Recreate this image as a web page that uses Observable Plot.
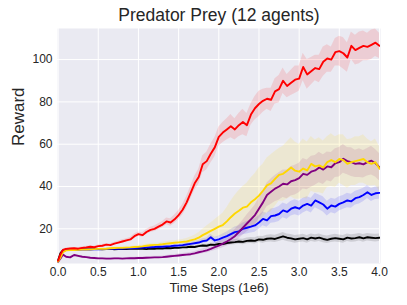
<!DOCTYPE html>
<html>
<head>
<meta charset="utf-8">
<script src="https://cdn.jsdelivr.net/npm/d3@7"></script>
<script src="https://cdn.jsdelivr.net/npm/@observablehq/plot@0.6"></script>
<style>
  html, body { margin: 0; padding: 0; background: #ffffff; }
  #chart svg { display: block; }
</style>
</head>
<body>
<div id="chart"></div>
<script>
const title = "Predator Prey (12 agents)";
const xLabel = "Time Steps (1e6)";
const yLabel = "Reward";
const xTicks = [0, 0.5, 1, 1.5, 2, 2.5, 3, 3.5, 4];
const yTicks = [20, 40, 60, 80, 100];

const steps = [0, 0.03, 0.06, 0.1, 0.15, 0.2, 0.25, 0.3, 0.35, 0.4, 0.45, 0.5, 0.55, 0.6, 0.65, 0.7, 0.75, 0.8, 0.85, 0.9, 0.95,
  1.0, 1.05, 1.1, 1.15, 1.2, 1.25, 1.3, 1.35, 1.4, 1.45, 1.5, 1.55, 1.6, 1.65, 1.7, 1.75, 1.8, 1.85, 1.9, 1.95,
  2.0, 2.05, 2.1, 2.15, 2.2, 2.25, 2.3, 2.35, 2.4, 2.45, 2.5, 2.55, 2.6, 2.65, 2.7, 2.75, 2.8, 2.85, 2.9, 2.95,
  3.0, 3.05, 3.1, 3.15, 3.2, 3.25, 3.3, 3.35, 3.4, 3.45, 3.5, 3.55, 3.6, 3.65, 3.7, 3.75, 3.8, 3.85, 3.9, 3.95, 4.0];

const redMean = [5, 8, 10, 10.5, 10.7, 10.8, 10.6, 11.0, 11.2, 11.5, 11.3, 11.8, 12.0, 12.5, 12.3, 13.0, 13.5, 14.0, 14.5, 15.0, 16.5,
  17.5, 17.0, 18.5, 19.5, 20.0, 21.0, 22.0, 23.5, 23.0, 24.5, 26.5, 29.0, 32.5, 37.0, 41.5, 44.5, 50.5, 52.0, 55.5, 58.5,
  63.5, 65.5, 67.0, 68.5, 67.0, 69.0, 70.5, 69.0, 74.0, 77.0, 79.0, 80.5, 81.5, 81.0, 85.0, 86.0, 90.0, 87.5, 89.0, 90.5,
  91.0, 96.5, 93.0, 94.5, 96.0, 95.5, 99.0, 100.5, 100.0, 103.5, 104.0, 103.0, 101.0, 106.5, 104.5, 105.5, 106.5, 106.0, 107.0, 108.0, 106.5];
const redBand = [0.3, 0.4, 0.4, 0.4, 0.4, 0.4, 0.4, 0.5, 0.5, 0.5, 0.5, 0.6, 0.6, 0.6, 0.6, 0.7, 0.7, 0.8, 0.8, 0.9, 1.0,
  1.0, 1.1, 1.2, 1.2, 1.3, 1.4, 1.5, 1.6, 1.8, 2.0, 2.2, 2.5, 2.8, 3.0, 3.3, 3.6, 4.0, 4.2, 4.5, 4.5,
  4.5, 4.8, 5.0, 5.5, 5.0, 5.5, 6.0, 5.5, 5.0, 5.5, 6.0, 5.5, 5.0, 5.5, 6.0, 6.5, 6.0, 5.5, 6.0, 6.5,
  6.0, 6.5, 7.0, 6.5, 6.0, 6.5, 7.0, 6.5, 6.0, 6.5, 7.0, 7.5, 7.0, 6.5, 7.0, 7.5, 7.0, 6.5, 7.0, 6.5, 6.0];

const goldMean = [4.5, 6.5, 9.0, 9.8, 10.0, 10.0, 10.1, 10.2, 10.2, 10.3, 10.4, 10.5, 10.5, 10.6, 10.8, 10.9, 11.0, 11.0, 11.1, 11.2, 11.4,
  11.5, 11.7, 12.0, 12.2, 12.4, 12.5, 12.7, 13.0, 13.2, 13.4, 13.6, 13.8, 14.0, 14.5, 15.0, 15.8, 17.0, 18.0, 19.0, 20.0,
  21.0, 21.8, 23.5, 25.5, 27.2, 28.5, 30.0, 30.5, 32.5, 34.0, 35.7, 38.0, 40.5, 41.5, 43.6, 45.5, 46.0, 47.5, 49.0, 47.5,
  47.0, 48.5, 47.6, 50.7, 49.5, 50.0, 49.0, 51.5, 52.5, 51.5, 53.0, 52.5, 50.7, 51.5, 52.0, 52.5, 53.0, 51.5, 50.7, 51.5, 48.4];
const goldBand = [0.3, 0.4, 0.4, 0.4, 0.4, 0.4, 0.4, 0.4, 0.4, 0.4, 0.4, 0.5, 0.5, 0.5, 0.5, 0.5, 0.5, 0.6, 0.6, 0.6, 0.6,
  0.7, 0.7, 0.7, 0.8, 0.8, 0.8, 0.9, 0.9, 1.0, 1.0, 1.1, 1.2, 1.4, 1.6, 1.9, 2.3, 2.8, 3.3, 3.8, 4.3,
  4.8, 5.5, 6.5, 7.5, 8.5, 9.5, 10.0, 11.0, 11.5, 12.0, 13.0, 12.5, 13.0, 13.5, 13.0, 12.5, 13.0, 13.5, 14.0, 13.5,
  13.0, 14.0, 13.5, 13.0, 12.5, 13.0, 12.5, 12.0, 12.5, 12.0, 11.5, 12.0, 11.5, 11.0, 11.5, 11.0, 11.5, 11.0, 10.5, 11.0, 10.5];

const purpleMean = [4.5, 6.0, 7.8, 6.8, 6.5, 7.6, 7.2, 6.8, 6.6, 6.3, 6.2, 6.0, 6.0, 5.9, 5.9, 6.0, 6.0, 5.9, 6.0, 6.1, 6.1,
  6.2, 6.2, 6.3, 6.4, 6.5, 6.5, 6.6, 6.8, 7.0, 7.2, 7.4, 7.6, 7.8, 8.0, 8.4, 8.9, 9.3, 9.8, 10.5, 11.3,
  12.1, 13.0, 14.0, 15.2, 16.5, 18.5, 20.5, 22.5, 24.5, 26.5, 29.5, 32.5, 36.0, 37.5, 39.0, 40.0, 41.3, 41.0, 42.5, 43.0,
  44.0, 46.0, 45.5, 47.0, 47.6, 49.0, 48.0, 49.5, 49.1, 51.0, 51.5, 53.1, 52.0, 51.5, 50.7, 51.0, 50.5, 51.5, 52.2, 51.0, 49.1];
const purpleBand = [0.3, 0.3, 0.4, 0.4, 0.4, 0.4, 0.4, 0.4, 0.4, 0.4, 0.4, 0.4, 0.4, 0.4, 0.4, 0.4, 0.4, 0.4, 0.4, 0.4, 0.4,
  0.5, 0.5, 0.5, 0.5, 0.5, 0.5, 0.5, 0.6, 0.6, 0.6, 0.7, 0.7, 0.8, 0.8, 0.9, 1.0, 1.1, 1.2, 1.4, 1.6,
  1.8, 2.0, 2.3, 2.6, 3.0, 3.3, 3.6, 4.0, 4.3, 4.6, 5.0, 5.3, 5.6, 6.0, 6.2, 6.5, 6.5, 6.8, 7.0, 7.0,
  7.0, 7.2, 7.0, 7.3, 7.0, 7.2, 7.0, 6.8, 7.0, 6.8, 7.0, 6.8, 6.5, 6.8, 6.5, 6.8, 6.5, 6.5, 6.8, 6.5, 6.5];

const blueMean = [4.5, 7.0, 9.5, 10.0, 10.1, 10.2, 10.2, 10.3, 10.2, 10.3, 10.4, 10.3, 10.4, 10.5, 10.5, 10.6, 10.6, 10.7, 10.8, 10.8, 10.9,
  11.0, 11.1, 11.2, 11.3, 11.4, 11.6, 11.5, 11.7, 11.8, 12.0, 12.1, 12.3, 12.6, 12.9, 13.2, 13.5, 14.2, 14.5, 16.0, 14.5,
  15.0, 15.8, 16.5, 17.5, 18.4, 18.8, 20.0, 20.5, 21.0, 21.6, 23.0, 24.7, 24.0, 26.0, 26.3, 27.0, 28.7, 28.0, 29.5, 30.2,
  29.5, 31.0, 31.8, 31.0, 33.4, 32.5, 31.5, 29.5, 31.0, 30.5, 31.8, 32.5, 33.4, 33.0, 34.5, 35.0, 36.0, 37.3, 36.0, 36.8, 37.0];
const blueBand = [0.3, 0.3, 0.3, 0.3, 0.3, 0.3, 0.3, 0.3, 0.3, 0.3, 0.3, 0.3, 0.3, 0.3, 0.3, 0.3, 0.3, 0.4, 0.4, 0.4, 0.4,
  0.4, 0.4, 0.4, 0.4, 0.5, 0.5, 0.5, 0.5, 0.6, 0.6, 0.6, 0.7, 0.7, 0.8, 0.9, 1.0, 1.1, 1.2, 1.4, 1.5,
  1.6, 1.8, 2.0, 2.2, 2.4, 2.6, 2.8, 3.0, 3.0, 3.2, 3.2, 3.3, 3.3, 3.4, 3.4, 3.5, 3.5, 3.5, 3.5, 3.5,
  3.5, 3.5, 3.4, 3.5, 3.4, 3.5, 3.6, 3.5, 3.4, 3.5, 3.4, 3.3, 3.4, 3.3, 3.2, 3.3, 3.2, 3.0, 3.1, 3.0, 3.0];

const blackMean = [5.0, 8.5, 9.8, 10.2, 10.3, 10.4, 10.3, 10.4, 10.4, 10.3, 10.4, 10.4, 10.3, 10.4, 10.5, 10.3, 10.4, 10.5, 10.4, 10.5, 10.5,
  10.5, 10.6, 10.4, 10.7, 10.6, 10.8, 10.7, 10.9, 10.8, 11.0, 11.0, 11.2, 11.3, 11.5, 11.4, 11.8, 12.1, 12.0, 12.5, 12.4,
  12.9, 12.8, 13.3, 13.5, 13.7, 14.0, 13.8, 14.3, 14.5, 14.3, 15.0, 14.8, 15.3, 15.5, 15.2, 15.8, 16.4, 15.8, 15.5, 15.0,
  15.3, 15.6, 15.0, 15.8, 15.4, 15.8, 15.2, 14.8, 15.3, 15.6, 15.3, 15.0, 15.8, 15.4, 15.6, 16.0, 15.5, 16.0, 15.8, 15.6, 15.8];
const blackBand = [0.3, 0.3, 0.3, 0.3, 0.3, 0.3, 0.3, 0.3, 0.3, 0.3, 0.3, 0.3, 0.3, 0.3, 0.3, 0.3, 0.3, 0.3, 0.3, 0.3, 0.3,
  0.3, 0.3, 0.3, 0.4, 0.4, 0.4, 0.4, 0.4, 0.4, 0.5, 0.5, 0.5, 0.5, 0.6, 0.6, 0.6, 0.7, 0.7, 0.8, 0.8,
  0.9, 1.0, 1.0, 1.1, 1.2, 1.2, 1.3, 1.4, 1.4, 1.5, 1.5, 1.6, 1.6, 1.7, 1.7, 1.8, 1.8, 1.8, 1.8, 1.8,
  1.8, 1.8, 1.8, 1.8, 1.8, 1.8, 1.8, 1.8, 1.8, 1.8, 1.8, 1.8, 1.8, 1.8, 1.8, 1.8, 1.8, 1.8, 1.8, 1.8, 1.8];

const seriesNames = ["black", "blue", "purple", "gold", "red"];
const seriesColors = ["#000000", "#0000ff", "#800080", "#ffd700", "#ff0000"];
const seriesMeans = [blackMean, blueMean, purpleMean, goldMean, redMean];
const seriesBands = [blackBand, blueBand, purpleBand, goldBand, redBand];

const rows = [];
seriesNames.forEach((name, i) => {
  steps.forEach((x, j) => {
    const m = seriesMeans[i][j], b = seriesBands[i][j];
    rows.push({series: name, color: seriesColors[i], x, y: m, lo: m - b, hi: m + b});
  });
});

const font = "'Liberation Sans', Arial, 'DejaVu Sans', sans-serif";
const textColor = "#262626";

const marks = [
  Plot.frame({fill: "#eaeaf2", stroke: null}),
  Plot.gridX(xTicks, {stroke: "#ffffff", strokeOpacity: 1, strokeWidth: 1}),
  Plot.gridY(yTicks, {stroke: "#ffffff", strokeOpacity: 1, strokeWidth: 1})
];
seriesNames.forEach((name, i) => {
  marks.push(Plot.areaY(rows.filter(d => d.series === name), {
    x: "x", y1: "lo", y2: "hi", fill: seriesColors[i], fillOpacity: name === "gold" ? 0.13 : 0.12, clip: true
  }));
});
seriesNames.forEach((name, i) => {
  marks.push(Plot.lineY(rows.filter(d => d.series === name), {
    x: "x", y: "y", stroke: seriesColors[i], strokeWidth: 1.9, clip: true
  }));
});
marks.push(
  Plot.axisX(xTicks, {tickSize: 0, tickPadding: 4, tickFormat: d3.format(".1f"), fontSize: 12, fill: textColor, label: null}),
  Plot.axisY(yTicks, {tickSize: 0, tickPadding: 5, fontSize: 12, fill: textColor, label: null}),
  Plot.text([title], {text: d => d, frameAnchor: "top", lineAnchor: "middle", dy: -13, fontSize: 17.5, fill: textColor, fontFamily: font}),
  Plot.text([xLabel], {text: d => d, frameAnchor: "bottom", lineAnchor: "middle", dy: 24, fontSize: 13, fill: textColor, fontFamily: font}),
  Plot.text([yLabel], {text: d => d, frameAnchor: "left", lineAnchor: "middle", dx: -39, rotate: -90, fontSize: 17, fill: textColor, fontFamily: font})
);

const chart = Plot.plot({
  width: 407,
  height: 305,
  marginLeft: 57,
  marginRight: 27,
  marginTop: 28,
  marginBottom: 42,
  style: {fontFamily: font, background: "#ffffff", overflow: "visible"},
  x: {domain: [-0.0075, 4.0125]},
  y: {domain: [3.6, 114.7]},
  marks
});
document.getElementById("chart").appendChild(chart);
</script>
</body>
</html>
